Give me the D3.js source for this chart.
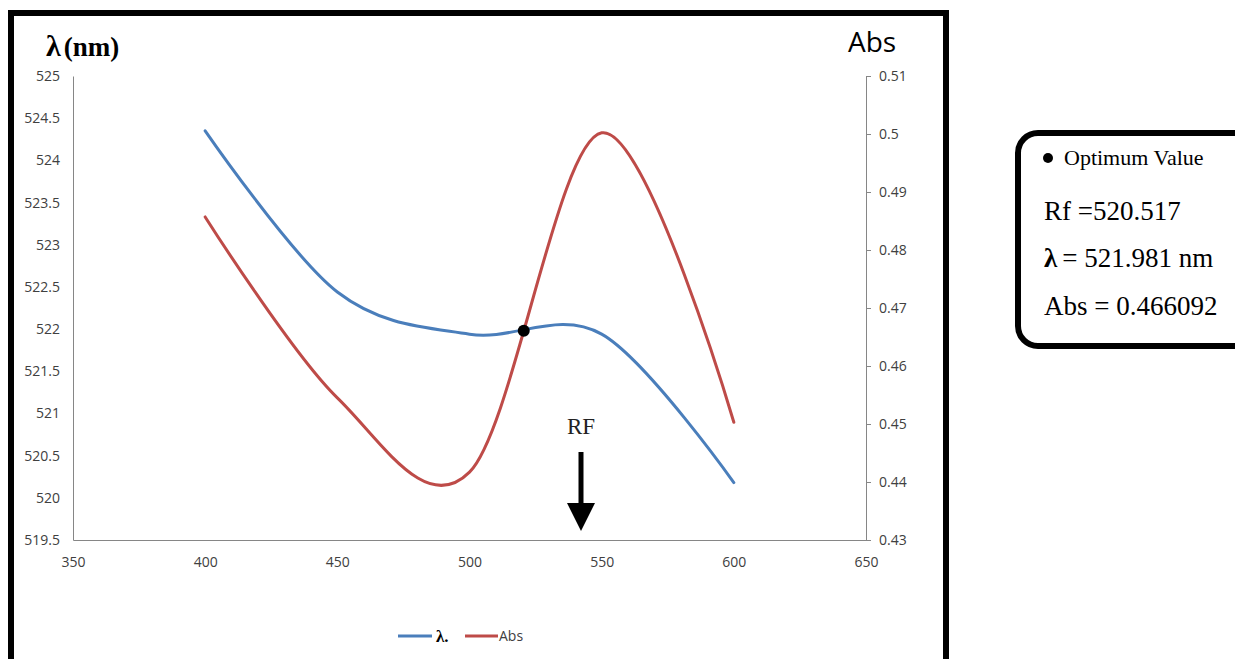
<!DOCTYPE html>
<html>
<head>
<meta charset="utf-8">
<script src="https://cdn.jsdelivr.net/npm/d3@7/dist/d3.min.js"></script>
<style>
  html, body { margin: 0; padding: 0; background: #fff; }
  svg { display: block; }
</style>
</head>
<body>
<svg id="chart" width="1235" height="659"></svg>
<script>
// ---- data ----
const wavelengths = [400, 450, 500, 550, 600];
const lambdaValues = [524.35, 522.44, 521.94, 521.94, 520.18];
const absValues = [0.4857, 0.4545, 0.4417, 0.5002, 0.4503];
const xTicks = [350, 400, 450, 500, 550, 600, 650];
const leftTicks = [519.5, 520, 520.5, 521, 521.5, 522, 522.5, 523, 523.5, 524, 524.5, 525];
const rightTicks = [0.43, 0.44, 0.45, 0.46, 0.47, 0.48, 0.49, 0.5, 0.51];
const optimumRf = 520.517;
const optimumLambda = 521.981;
const optimumAbs = 0.466092;
const seriesNames = ["λ.", "Abs"];
const infoLines = ["Optimum Value", "Rf =520.517", "= 521.981 nm", "Abs = 0.466092"];

(function () {
// ---- layout ----
const svg = d3.select("#chart");
const pL = 73, pR = 866, pT = 76, pB = 540;
const blue = "#4a7ebb", red = "#be4b48", axisCol = "#868686", labCol = "#404040";

const x = d3.scaleLinear().domain([350, 650]).range([pL, pR]);
const yL = d3.scaleLinear().domain([519.5, 525]).range([pB, pT]);
const yR = d3.scaleLinear().domain([0.43, 0.51]).range([pB, pT]);

// outer frame
svg.append("rect").attr("x", 11).attr("y", 13).attr("width", 935).attr("height", 700)
  .attr("fill", "none").attr("stroke", "#000").attr("stroke-width", 6);

// axes
const fontAxis = "'Open Sans', sans-serif";
const gx = svg.append("g").attr("transform", `translate(0,${pB})`)
  .call(d3.axisBottom(x).tickValues(xTicks).tickSize(0).tickPadding(17).tickFormat(d3.format("d")));
const gl = svg.append("g").attr("transform", `translate(${pL},0)`)
  .call(d3.axisLeft(yL).tickValues(leftTicks).tickSize(0).tickPadding(13).tickFormat(d => String(d)));
const gr = svg.append("g").attr("transform", `translate(${pR},0)`)
  .call(d3.axisRight(yR).tickValues(rightTicks).tickSize(5).tickPadding(8).tickFormat(d => String(+d.toFixed(2))));
[gx, gl, gr].forEach(g => {
  g.select(".domain").attr("stroke", axisCol).attr("stroke-width", 1);
  g.selectAll(".tick line").attr("stroke", axisCol);
  g.selectAll(".tick text").attr("fill", labCol).style("font-family", fontAxis).style("font-size", "14px");
});

// axis titles
const t1 = svg.append("text").attr("x", 46).attr("y", 56)
  .style("font-family", "'Liberation Serif', serif").style("font-weight", "bold").style("font-size", "27px").attr("fill", "#000");
t1.append("tspan").style("font-size", "30px").text("λ");
t1.append("tspan").attr("dx", 3).text("(nm)");
svg.append("text").attr("x", 848).attr("y", 52).text("Abs")
  .style("font-family", fontAxis).style("font-size", "28px").attr("fill", "#000");

// lines
const lineL = d3.line().x((d, i) => x(wavelengths[i])).y(d => yL(d)).curve(d3.curveCardinal.tension(0));
const lineR = d3.line().x((d, i) => x(wavelengths[i])).y(d => yR(d)).curve(d3.curveCardinal.tension(0));
svg.append("path").datum(lambdaValues).attr("d", lineL).attr("fill", "none").attr("stroke", blue).attr("stroke-width", 3).attr("stroke-linecap", "round");
svg.append("path").datum(absValues).attr("d", lineR).attr("fill", "none").attr("stroke", red).attr("stroke-width", 3).attr("stroke-linecap", "round");

// optimum dot
svg.append("circle").attr("cx", x(optimumRf)).attr("cy", yL(optimumLambda)).attr("r", 6).attr("fill", "#000");

// RF arrow
svg.append("text").attr("x", 581).attr("y", 434).attr("text-anchor", "middle").text("RF")
  .style("font-family", "'Liberation Serif', serif").style("font-size", "23px").attr("fill", "#222");
svg.append("line").attr("x1", 581).attr("x2", 581).attr("y1", 452).attr("y2", 506).attr("stroke", "#000").attr("stroke-width", 5);
svg.append("path").attr("d", "M567,503 L595,503 L581,531 Z").attr("fill", "#000");

// legend
const lg = svg.append("g");
lg.append("line").attr("x1", 398).attr("x2", 432).attr("y1", 636).attr("y2", 636).attr("stroke", blue).attr("stroke-width", 3);
lg.append("text").attr("x", 436).attr("y", 642).text(seriesNames[0])
  .style("font-family", "'Liberation Serif', serif").style("font-weight", "bold").style("font-size", "17px").attr("fill", "#000");
lg.append("line").attr("x1", 465).attr("x2", 498).attr("y1", 636).attr("y2", 636).attr("stroke", red).attr("stroke-width", 3);
lg.append("text").attr("x", 499).attr("y", 641).text(seriesNames[1])
  .style("font-family", fontAxis).style("font-size", "14px").attr("fill", labCol);

// info box
svg.append("rect").attr("x", 1018).attr("y", 133).attr("width", 240).attr("height", 213).attr("rx", 20)
  .attr("fill", "#fff").attr("stroke", "#000").attr("stroke-width", 6);
svg.append("circle").attr("cx", 1048).attr("cy", 158).attr("r", 5).attr("fill", "#000");
const serif = "'Liberation Serif', serif";
svg.append("text").attr("x", 1064).attr("y", 165).text(infoLines[0])
  .style("font-family", serif).style("font-size", "22px").attr("fill", "#000");
svg.append("text").attr("x", 1044).attr("y", 220).text(infoLines[1])
  .style("font-family", serif).style("font-size", "27px").attr("fill", "#000");
const l3 = svg.append("text").attr("x", 1044).attr("y", 267)
  .style("font-family", serif).style("font-size", "27px").attr("fill", "#000");
l3.append("tspan").style("font-weight", "bold").text("λ");
l3.append("tspan").attr("dx", 5).text(infoLines[2]);
svg.append("text").attr("x", 1044).attr("y", 315).text(infoLines[3])
  .style("font-family", serif).style("font-size", "27px").attr("fill", "#000");
})();
</script>
</body>
</html>
